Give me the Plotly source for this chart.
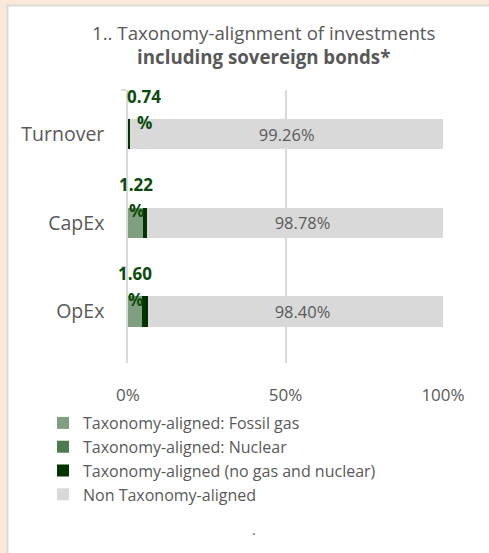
import plotly.graph_objects as go

categories = ["Turnover", "CapEx", "OpEx"]
fossil_gas = [0.0, 4.8, 4.6]
nuclear = [0.0, 0.0, 0.0]
aligned = [0.74, 1.22, 1.60]
non_aligned = [99.26, 98.78, 98.40]
aligned_labels = ["0.74", "1.22", "1.60"]
tick_vals = [0, 50, 100]
tick_text = ["0%", "50%", "100%"]

FONT = "Open Sans"
GRAY_TXT = "#595959"
GRID = "#D9D9D9"

W, H = 489, 553
L, R, T, B = 128, 46, 90, 190
pw, ph = W - L - R, H - T - B

def px_x(p):
    return (p - L) / pw

def px_y(p):
    return (H - B - p) / ph

fig = go.Figure()
series = [
    ("Taxonomy-aligned: Fossil gas", fossil_gas, "#7F9F80"),
    ("Taxonomy-aligned: Nuclear", nuclear, "#4E7A50"),
    ("Taxonomy-aligned (no gas and nuclear)", aligned, "#003300"),
]
for name, vals, col in series:
    fig.add_trace(go.Bar(y=categories, x=vals, name=name, orientation="h",
                         marker=dict(color=col, line=dict(width=0)),
                         hoverinfo="skip"))
fig.add_trace(go.Bar(y=categories, x=non_aligned, name="Non Taxonomy-aligned",
                     orientation="h", marker=dict(color="#D9D9D9", line=dict(width=0)),
                     text=[f"{v:.2f}%" for v in non_aligned], textposition="inside",
                     insidetextanchor="middle",
                     textfont=dict(family=FONT, size=16.5, color=GRAY_TXT),
                     hoverinfo="skip"))

shifts = [16, 8, 7]
annotations = []
for cat, lab, sx in zip(categories, aligned_labels, shifts):
    annotations.append(dict(x=0, y=cat, xref="x", yref="y", text=f"<b>{lab}</b>",
                            showarrow=False, xshift=sx, yshift=38,
                            font=dict(family=FONT, size=17, color="#0B4A0B")))
    annotations.append(dict(x=0, y=cat, xref="x", yref="y", text="<b>%</b>",
                            showarrow=False, xshift=sx, yshift=12,
                            font=dict(family=FONT, size=17, color="#0B4A0B")))

annotations.append(dict(x=px_x(264), y=px_y(44.5), xref="paper", yref="paper",
                        text="1.. Taxonomy-alignment of investments<br><b>including sovereign bonds*</b>",
                        showarrow=False, xanchor="center", yanchor="middle",
                        font=dict(family=FONT, size=18.7, color=GRAY_TXT)))
annotations.append(dict(x=px_x(254), y=px_y(541), xref="paper", yref="paper",
                        text=".", showarrow=False,
                        font=dict(family=FONT, size=15, color=GRAY_TXT)))

shapes = [dict(type="rect", xref="paper", yref="paper", layer="below",
               x0=px_x(7.5), x1=px_x(W + 20), y0=px_y(H + 20), y1=px_y(5.5),
               fillcolor="white", line=dict(color="#D9D9D9", width=2))]

fig.update_layout(
    width=W, height=H, barmode="stack", bargap=0.66,
    margin=dict(l=L, r=R, t=T, b=B, autoexpand=False),
    paper_bgcolor="#FBE8D8", plot_bgcolor="white",
    font=dict(family=FONT, color=GRAY_TXT),
    showlegend=True,
    legend=dict(x=px_x(43), y=px_y(406), xanchor="left", yanchor="top",
                traceorder="normal", bgcolor="rgba(0,0,0,0)",
                font=dict(family=FONT, size=16, color=GRAY_TXT),
                itemclick=False, tracegroupgap=0),
    annotations=annotations, shapes=shapes,
)
fig.update_xaxes(range=[0, 100], tickvals=tick_vals, ticktext=tick_text,
                 showgrid=True, gridcolor=GRID, gridwidth=1.5, zeroline=False,
                 showline=False, ticks="", ticklabelstandoff=20,
                 tickfont=dict(family=FONT, size=17, color=GRAY_TXT), fixedrange=True)
fig.update_yaxes(autorange="reversed", showline=True, linecolor=GRID, linewidth=1.5,
                 ticks="outside", tickson="boundaries", ticklen=5, tickcolor=GRID,
                 tickwidth=1.5, showgrid=False, ticklabelstandoff=18,
                 tickfont=dict(family=FONT, size=19.5, color=GRAY_TXT), fixedrange=True)

fig.write_html("out.html")
